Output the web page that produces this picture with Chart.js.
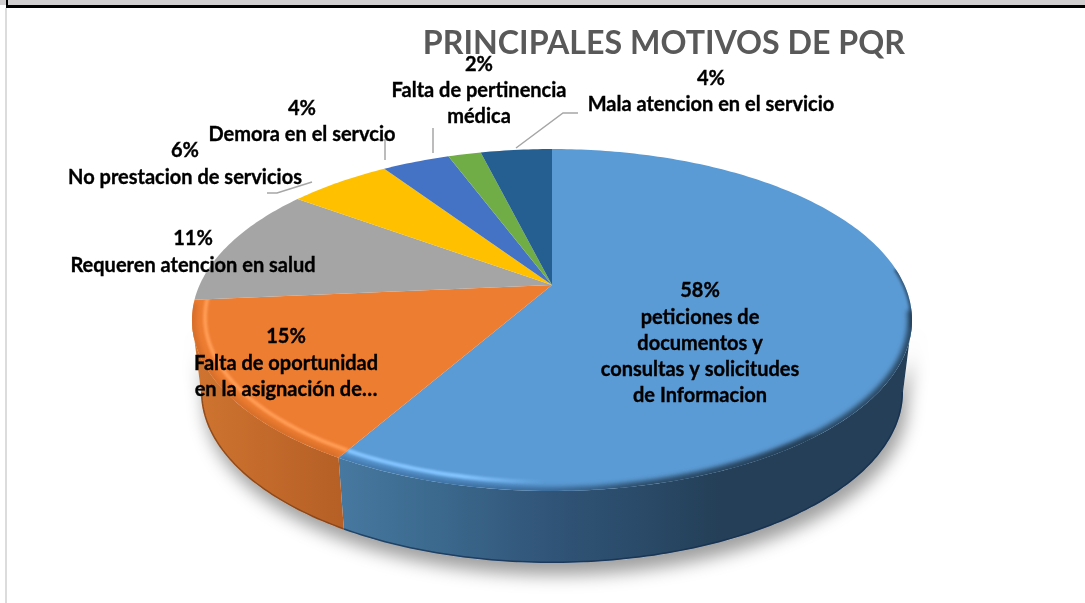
<!DOCTYPE html>
<html>
  <head>
    <meta charset="utf-8">
    <title>Principales motivos de PQR</title>
    <style>
      html, body { margin: 0; padding: 0; background: #fff; overflow: hidden; }
      #MyCanvas { position: absolute; left: 0; top: 0; }
      .frame { position: absolute; }
    </style>
  </head>
  <body>
    <canvas id="MyCanvas" width="1085" height="603"></canvas>
    <div class="frame" style="left:0;top:0;width:1085px;height:5px;background:#d0cece"></div>
    <div class="frame" style="left:6px;top:5px;width:1079px;height:3px;background:#000"></div>
    <div class="frame" style="left:6px;top:0;width:2px;height:5px;background:#000"></div>
    <div class="frame" style="left:5px;top:8px;width:2px;height:595px;background:#dcdcdc"></div>
    <script src="https://cdn.jsdelivr.net/npm/chart.js@4"></script>
    <script>
      const chartTitle = 'PRINCIPALES MOTIVOS DE PQR';
      const categories = [
        ['peticiones de', 'documentos y', 'consultas y solicitudes', 'de Informacion'],
        ['Falta de oportunidad', 'en la asignación de…'],
        ['Requeren atencion en salud'],
        ['No prestacion de servicios'],
        ['Demora en el servcio'],
        ['Falta de pertinencia', 'médica'],
        ['Mala atencion en el servicio']
      ];
      // labels show them rounded
      const percents = [58.3, 15.3, 11.4, 5.6, 3.7, 1.8, 3.9];
      const topColors = ['#5b9bd5', '#ed7d31', '#a5a5a5', '#ffc000', '#4472c4', '#70ad47', '#255e91'];

      // where each label sits: centre x, first line y, line height
      const labelSpots = [
        [700, 291, 26.2], [286, 337, 26.5], [193, 239, 27], [185, 151, 27],
        [302, 109, 26], [479, 65, 26], [711, 79, 26]
      ];
      const leaderLines = [
        [[267, 193], [277, 193], [312, 182]],
        [[375, 140], [385, 140], [385, 160]],
        [[433, 128], [433, 153]],
        [[516, 148], [563, 113], [578, 113]]
      ];

      const tilt = 0.2047;      // perspective of the disc
      const squash = 0.4648;    // height of the disc against its width
      const depth = 72;         // wall height
      const baseShrink = 0.975; // bottom rim is a bit narrower

      function project(el, angle, inset) {
        const k = inset || 1;
        const u = k * Math.cos(angle), v = k * Math.sin(angle), d = 1 - tilt * v;
        return {
          x: el.x + el.outerRadius * u / d,
          y: el.y + el.outerRadius * squash * v / d
        };
      }
      function baseOf(el, p) {
        return { x: el.x + (p.x - el.x) * baseShrink, y: p.y + depth };
      }
      function rimPoints(el, a0, a1, inset) {
        const pts = [], n = Math.max(2, Math.ceil((a1 - a0) * 60));
        for (let i = 0; i <= n; i++) pts.push(project(el, a0 + (a1 - a0) * i / n, inset));
        return pts;
      }
      function trace(ctx, pts) {
        pts.forEach((p, i) => i ? ctx.lineTo(p.x, p.y) : ctx.moveTo(p.x, p.y));
      }
      function wallPath(ctx, el, a0, a1) {
        const rim = rimPoints(el, a0, a1);
        ctx.beginPath();
        trace(ctx, rim);
        rim.reverse().forEach(p => { const b = baseOf(el, p); ctx.lineTo(b.x, b.y); });
        ctx.closePath();
      }
      function slicePath(ctx, el) {
        ctx.beginPath();
        ctx.moveTo(el.x, el.y);
        rimPoints(el, el.startAngle, el.endAngle).forEach(p => ctx.lineTo(p.x, p.y));
        ctx.closePath();
      }
      function softStroke(ctx, el, style, width, blur, a0, a1, inset) {
        ctx.save();
        slicePath(ctx, el);
        ctx.clip();
        ctx.filter = 'blur(' + blur + 'px)';
        ctx.strokeStyle = style;
        ctx.lineWidth = width;
        ctx.beginPath();
        trace(ctx, rimPoints(el, a0, a1, inset));
        ctx.stroke();
        ctx.restore();
      }

      const pie3d = {
        id: 'pie3d',
        beforeDatasetDraw(chart, args) {
          const ctx = chart.ctx;
          const arcs = chart.getDatasetMeta(args.index).data;
          const first = arcs[0];
          const wallFrom = Math.asin(tilt), wallTo = Math.PI - wallFrom;

          // soft shadow under the whole body
          ctx.save();
          ctx.shadowColor = 'rgba(0,0,0,0.38)';
          ctx.shadowBlur = 17;
          ctx.shadowOffsetY = 12;
          ctx.shadowOffsetX = 4;
          ctx.fillStyle = '#fff';
          wallPath(ctx, first, wallFrom, wallTo);
          ctx.fill();
          ctx.restore();

          // walls
          const blueWall = ctx.createLinearGradient(340, 0, 720, 0);
          blueWall.addColorStop(0, '#47789f');
          blueWall.addColorStop(0.24, '#3c6a8f');
          blueWall.addColorStop(0.56, '#305477');
          blueWall.addColorStop(0.8, '#2a4a68');
          blueWall.addColorStop(1, '#243f57');
          const orangeWall = ctx.createLinearGradient(195, 0, 345, 0);
          orangeWall.addColorStop(0, '#cf7430');
          orangeWall.addColorStop(1, '#b55f26');
          [blueWall, orangeWall].forEach((fill, i) => {
            const a0 = Math.max(arcs[i].startAngle, wallFrom);
            const a1 = Math.min(arcs[i].endAngle, wallTo);
            ctx.save();
            ctx.fillStyle = fill;
            wallPath(ctx, arcs[i], a0, a1);
            ctx.fill();
            ctx.clip();
            // darker line along the bottom edge
            ctx.strokeStyle = i ? 'rgba(120,60,20,0.7)' : 'rgba(20,45,80,0.7)';
            ctx.lineWidth = 3;
            ctx.beginPath();
            trace(ctx, rimPoints(arcs[i], a0, a1).map(p => baseOf(arcs[i], p)));
            ctx.stroke();
            ctx.restore();
          });

          // top face
          arcs.forEach((el, i) => {
            ctx.fillStyle = topColors[i];
            slicePath(ctx, el);
            ctx.fill();
          });

          // bevel along the front rim: shaded edge, then a thin highlight above it
          const blueEdge = ctx.createLinearGradient(340, 0, 640, 0);
          blueEdge.addColorStop(0, 'rgba(60,110,160,0.75)');
          blueEdge.addColorStop(0.7, 'rgba(50,95,140,0.85)');
          blueEdge.addColorStop(1, 'rgba(36,63,87,0.85)');
          softStroke(ctx, first, blueEdge, 8, 2.5, 0.9, arcs[0].endAngle);
          softStroke(ctx, arcs[1], 'rgba(205,105,40,0.75)', 8, 2.5, arcs[1].startAngle, wallTo + 0.1);

          const dark = ctx.createLinearGradient(600, 0, 780, 0);
          dark.addColorStop(0, 'rgba(36,63,87,0)');
          dark.addColorStop(1, 'rgba(36,63,87,0.9)');
          softStroke(ctx, first, dark, 9, 2.5, 0.15, 1.7);
          softStroke(ctx, first, 'rgba(36,63,87,0.8)', 4, 1.8, -0.1, 0.25);

          const blueGlow = ctx.createLinearGradient(340, 0, 545, 0);
          blueGlow.addColorStop(0, '#84c4ff');
          blueGlow.addColorStop(0.6, '#84c4ff');
          blueGlow.addColorStop(1, 'rgba(132,196,255,0)');
          softStroke(ctx, first, blueGlow, 4, 1.3, 1.4, arcs[0].endAngle, 0.965);
          softStroke(ctx, arcs[1], '#ff9c55', 4, 1.3, arcs[1].startAngle, wallTo + 0.22, 0.965);

          return false;
        },
        afterDatasetsDraw(chart) {
          const ctx = chart.ctx;
          ctx.save();
          ctx.strokeStyle = '#a6a6a6';
          ctx.lineWidth = 1.5;
          leaderLines.forEach(line => {
            ctx.beginPath();
            line.forEach((p, i) => i ? ctx.lineTo(p[0], p[1]) : ctx.moveTo(p[0], p[1]));
            ctx.stroke();
          });
          ctx.fillStyle = '#000';
          ctx.strokeStyle = '#000';
          ctx.lineWidth = 0.35;
          ctx.font = 'bold 20px Lato';
          ctx.textAlign = 'center';
          ctx.textBaseline = 'middle';
          categories.forEach((lines, i) => {
            const spot = labelSpots[i];
            [Math.round(percents[i]) + '%'].concat(lines).forEach((text, k) => {
              ctx.fillText(text, spot[0], spot[1] + k * spot[2]);
              ctx.strokeText(text, spot[0], spot[1] + k * spot[2]);
            });
          });
          ctx.restore();
        }
      };

      const ctx = document.getElementById('MyCanvas').getContext('2d');
      const myChart = new Chart(ctx, {
        type: 'pie',
        data: {
          labels: categories.map(c => c.join(' ')),
          datasets: [{ data: percents, backgroundColor: topColors, borderWidth: 0 }]
        },
        options: {
          responsive: false,
          animation: false,
          radius: 352.4,
          layout: { padding: { left: 199, right: 180, top: 0, bottom: 95.6 } },
          plugins: {
            legend: { display: false },
            tooltip: { enabled: false },
            title: {
              display: true,
              text: chartTitle,
              align: 'end',
              color: '#595959',
              font: { family: 'Lato', size: 32.2, weight: 'bold', lineHeight: 1.2 },
              padding: { top: 24, bottom: 0 }
            }
          }
        },
        plugins: [pie3d]
      });
    </script>
  </body>
</html>
